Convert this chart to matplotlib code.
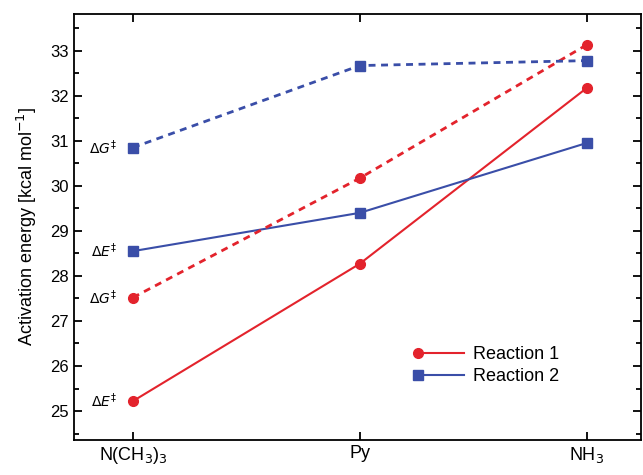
import numpy as np
import matplotlib.pyplot as plt
from matplotlib.ticker import MultipleLocator
from matplotlib.legend_handler import HandlerLine2D

plt.rcParams['font.family'] = ['Liberation Sans', 'DejaVu Sans']

categories = ['N(CH$_3$)$_3$', 'Py', 'NH$_3$']
r1_dE = [25.22, 28.27, 32.17]
r1_dG = [27.52, 30.17, 33.13]
r2_dE = [28.55, 29.40, 30.95]
r2_dG = [30.85, 32.67, 32.78]

red = '#e3232c'
blue = '#3a4ea8'
x = np.arange(len(categories))


class MarkerLeft(HandlerLine2D):
    # marker at the left end of the legend line, like in the original
    def create_artists(self, *args, **kwargs):
        arts = super().create_artists(*args, **kwargs)
        arts[0].set_markevery([0])
        return arts


fig = plt.figure(figsize=(6.43, 4.75), dpi=100)
ax = fig.add_axes([0.115, 0.074, 0.882, 0.897])

l1, = ax.plot(x, r1_dE, '-o', color=red, ms=7, lw=1.5, label='Reaction 1')
l2, = ax.plot(x, r2_dE, '-s', color=blue, ms=7, lw=1.5, label='Reaction 2')
ax.plot(x, r1_dG, 'o', ls=(0, (2.5, 2)), color=red, ms=7, lw=2)
ax.plot(x, r2_dG, 's', ls=(0, (2.5, 2)), color=blue, ms=7, lw=2)

# labels next to the first points
for y, lab in [(r1_dE[0], r'$\Delta E^{\ddagger}$'), (r1_dG[0], r'$\Delta G^{\ddagger}$'),
               (r2_dE[0], r'$\Delta E^{\ddagger}$'), (r2_dG[0], r'$\Delta G^{\ddagger}$')]:
    ax.text(x[0] - 0.07, y, lab, ha='right', va='center', fontsize=10)

ax.set_xlim(-0.26, 2.24)
ax.set_ylim(24.36, 33.82)
ax.set_xticks(x)
ax.set_xticklabels(categories, fontsize=13)
ax.yaxis.set_major_locator(MultipleLocator(1))
ax.yaxis.set_minor_locator(MultipleLocator(0.5))
ax.tick_params(axis='y', labelsize=12)
ax.tick_params(which='both', direction='in', top=True, right=True, width=1.3)
ax.tick_params(which='major', length=6)
ax.tick_params(which='minor', length=3.5)
for s in ax.spines.values():
    s.set_linewidth(1.3)
ax.set_ylabel('Activation energy [kcal mol$^{-1}$]', fontsize=13, labelpad=8)

ax.legend(loc='lower right', bbox_to_anchor=(0.885, 0.09), frameon=False, fontsize=13,
          handlelength=2.6, handletextpad=0.5, labelspacing=0.3,
          handler_map={l1: MarkerLeft(), l2: MarkerLeft()})

fig.savefig('out.png', dpi=100)
